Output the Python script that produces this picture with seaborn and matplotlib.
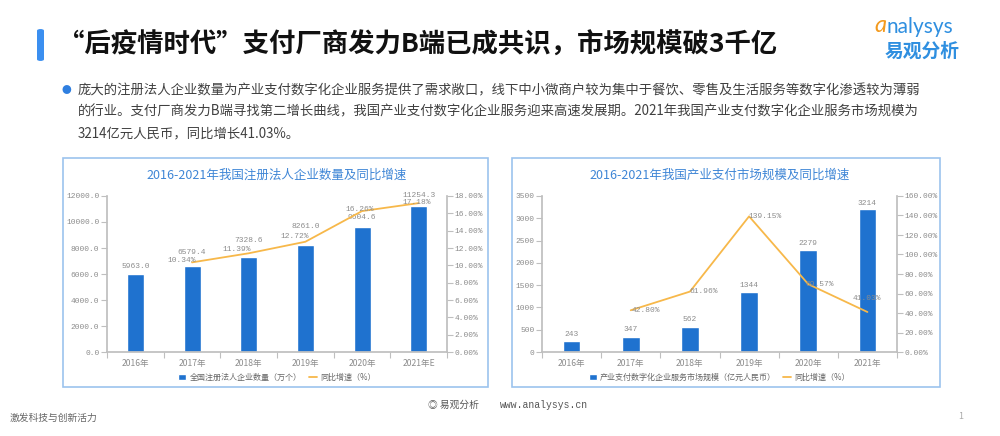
#!/usr/bin/env python3
"""后疫情时代支付厂商发力B端：注册企业数量 + 产业支付市场规模 双图"""
import matplotlib; matplotlib.use("Agg")
import matplotlib.pyplot as plt; import numpy as np
import pandas as pd; import seaborn as sns
from matplotlib.patches import Rectangle, FancyBboxPatch
from matplotlib.ticker import FuncFormatter, MultipleLocator

sns.set_theme(style="white")
CJK = ["Noto Sans CJK SC", "DejaVu Sans"]
MONO = ["Liberation Mono", "Noto Sans CJK SC"]
plt.rcParams["font.family"] = CJK

# ---- 数据 ----
years_l = ["2016年", "2017年", "2018年", "2019年", "2020年", "2021年E"]
firms = [5963.0, 6579.4, 7328.6, 8261.0, 9604.6, 11254.3]
firms_yoy = [np.nan, 10.34, 11.39, 12.72, 16.26, 17.18]

years_r = ["2016年", "2017年", "2018年", "2019年", "2020年", "2021年"]
market = [243, 347, 562, 1344, 2279, 3214]
market_yoy = [np.nan, 42.80, 61.96, 139.15, 69.57, 41.03]

# 标签偏移（像素，避让用）
bar_off_l = [7.5, 14, 16, 18.5, 10, 10.5]
line_off_l = [(-10, 1.5), (-12, 4), (-10.5, 5), (-2.5, 2), (-1.5, 0.5)]
bar_off_r = [7, 7, 7, 7, 6.5, 5.5]
line_off_r = [(15, 0), (14, 0), (16, 0), (11, 0), (-1, 13)]

BAR = "#1f72cf"; LINE = "#f7b84a"; AX = "#bfbfbf"; TXT = "#8c8c8c"; TITLE = "#3f86d6"
FS = 5.7

W, H = 1000, 436
fig = plt.figure(figsize=(W/100, H/100), dpi=100)
fig.patch.set_facecolor("white")

def fx(px): return px / W
def fy(py): return 1 - py / H

# ---- 页头 ----
fig.patches.append(FancyBboxPatch((fx(37), fy(61)), fx(7), fy(29)-fy(61),
                   boxstyle="round,pad=0,rounding_size=0.004", transform=fig.transFigure,
                   fc="#3b8ff0", ec="none"))
fig.text(fx(58), fy(45), "“后疫情时代”支付厂商发力B端已成共识，市场规模破3千亿",
         fontsize=19, fontweight="bold", color="#111111", va="center", ha="left")
fig.text(fx(874), fy(26), "a", fontsize=17, color="#f39a1e", style="italic",
         va="center", ha="left", family=["Lato", "DejaVu Sans"])
fig.text(fx(886), fy(27), "nalysys", fontsize=15, color="#2f8fe0",
         va="center", ha="left", family=["Lato", "DejaVu Sans"])
fig.text(fx(922), fy(51), "易观分析", fontsize=13.5, fontweight="bold", color="#2f8fe0",
         va="center", ha="center")
fig.text(fx(66), fy(90), "●", fontsize=7, color="#2f7fe0", va="center", ha="center")
body = ["庞大的注册法人企业数量为产业支付数字化企业服务提供了需求敞口，线下中小微商户较为集中于餐饮、零售及生活服务等数字化渗透较为薄弱",
        "的行业。支付厂商发力B端寻找第二增长曲线，我国产业支付数字化企业服务迎来高速发展期。2021年我国产业支付数字化企业服务市场规模为",
        "3214亿元人民币，同比增长41.03%。"]
for i, line in enumerate(body):
    fig.text(fx(78), fy(90 + i*21.5), line, fontsize=9.6, color="#404040", va="center", ha="left")

# ---- 页脚 ----
fig.text(fx(10), fy(418), "激发科技与创新活力", fontsize=7, color="#666666", va="center")
fig.text(fx(428), fy(405), "◎ 易观分析", fontsize=7, color="#555555", va="center", ha="left")
fig.text(fx(500), fy(405), "www.analysys.cn", fontsize=7, color="#555555", va="center",
         ha="left", family=MONO)
fig.text(fx(958), fy(416), "1", fontsize=6.5, color="#aaaaaa", va="center")

def panel(x0, x1, y0, y1):
    fig.patches.append(Rectangle((fx(x0), fy(y1)), fx(x1-x0), fy(y0)-fy(y1),
                       transform=fig.transFigure, fc="white", ec="#9cc3ee", lw=1.2, zorder=-1))

def style_axes(ax, ax2):
    for a in (ax, ax2):
        a.patch.set_alpha(0)
        for s in a.spines.values():
            s.set_visible(False)
        a.tick_params(axis="y", colors=AX, labelcolor=TXT, labelsize=FS, length=4, width=0.8, pad=1.5)
        for t in a.get_yticklabels():
            t.set_fontfamily(MONO)
    ax.spines["left"].set_visible(True); ax.spines["left"].set_color(AX)
    ax.spines["bottom"].set_visible(True); ax.spines["bottom"].set_color(AX)
    ax2.spines["right"].set_visible(True); ax2.spines["right"].set_color(AX)
    n = len(ax.get_xticks())
    ax.set_xticks(np.arange(n + 1) - 0.5, minor=True)
    ax.tick_params(axis="x", which="major", length=0, labelsize=6.2, labelcolor=TXT, pad=5)
    ax.tick_params(axis="x", which="minor", length=4, color=AX, width=0.8, bottom=True)
    ax.tick_params(axis="y", left=True)
    ax2.tick_params(axis="y", right=True)
    ax.set_xlabel(""); ax.set_ylabel(""); ax2.set_ylabel("")
    ax.set_xlim(-0.5, n - 0.5)

def draw(rect, years, vals, yoy, ymax, ystep, yfmt, rmax, rstep, title, bar_label, bar_fmt,
         bar_off, line_off):
    ax = fig.add_axes(rect)
    df = pd.DataFrame({"year": years, "val": vals, "yoy": yoy})
    sns.barplot(data=df, x="year", y="val", color=BAR, width=0.3, ax=ax, saturation=1,
                label=bar_label)
    ax.set_ylim(0, ymax); ax.yaxis.set_major_locator(MultipleLocator(ystep))
    ax.yaxis.set_major_formatter(FuncFormatter(yfmt))
    for i, (v, o) in enumerate(zip(vals, bar_off)):
        ax.annotate(bar_fmt(v), (i, v), xytext=(0, o*0.72), textcoords="offset points",
                    ha="center", va="center", fontsize=FS, color=TXT, family=MONO)
    ax2 = ax.twinx()
    d2 = df.assign(pos=np.arange(len(years))).dropna()
    sns.lineplot(data=d2, x="pos", y="yoy", color=LINE, lw=1.3, ax=ax2, label="同比增速（%）")
    ax2.set_ylim(0, rmax); ax2.yaxis.set_major_locator(MultipleLocator(rstep))
    ax2.yaxis.set_major_formatter(FuncFormatter(lambda v, p: f"{v:.2f}%"))
    for p, v, (dx, dy) in zip(d2["pos"], d2["yoy"], line_off):
        ax2.annotate(f"{v:.2f}%", (p, v), xytext=(dx*0.72, dy*0.72), textcoords="offset points",
                     ha="center", va="center", fontsize=FS, color=TXT, family=MONO)
    style_axes(ax, ax2)
    for t in ax.get_xticklabels():
        t.set_fontfamily(CJK)
    h1, l1 = ax.get_legend_handles_labels(); h2, l2 = ax2.get_legend_handles_labels()
    ax2.get_legend().remove()
    if ax.get_legend(): ax.get_legend().remove()
    leg = ax.legend(h1 + h2, l1 + l2, loc="upper center", bbox_to_anchor=(0.5, -0.085), ncol=2,
                    frameon=False, fontsize=5.8, handlelength=1.0, handleheight=0.8,
                    handletextpad=0.4, columnspacing=0.9)
    for t in leg.get_texts(): t.set_color("#666666")
    cx = rect[0] + rect[2] / 2
    fig.text(cx, fy(175), title, fontsize=9, color=TITLE, ha="center", va="center")
    return ax, ax2

panel(63, 488, 158, 387)
panel(512, 940, 158, 387)

draw([fx(107), fy(352), fx(447-107), fy(196)-fy(352)], years_l, firms, firms_yoy,
     12000, 2000, lambda v, p: f"{v:.1f}", 18, 2,
     "2016-2021年我国注册法人企业数量及同比增速", "全国注册法人企业数量（万个）",
     lambda v: f"{v:.1f}", bar_off_l, line_off_l)
draw([fx(542), fy(352), fx(897-542), fy(196)-fy(352)], years_r, market, market_yoy,
     3500, 500, lambda v, p: f"{v:.0f}", 160, 20,
     "2016-2021年我国产业支付市场规模及同比增速", "产业支付数字化企业服务市场规模（亿元人民币）",
     lambda v: f"{v:.0f}", bar_off_r, line_off_r)

fig.savefig("out.png", dpi=100)
print("-> out.png")
